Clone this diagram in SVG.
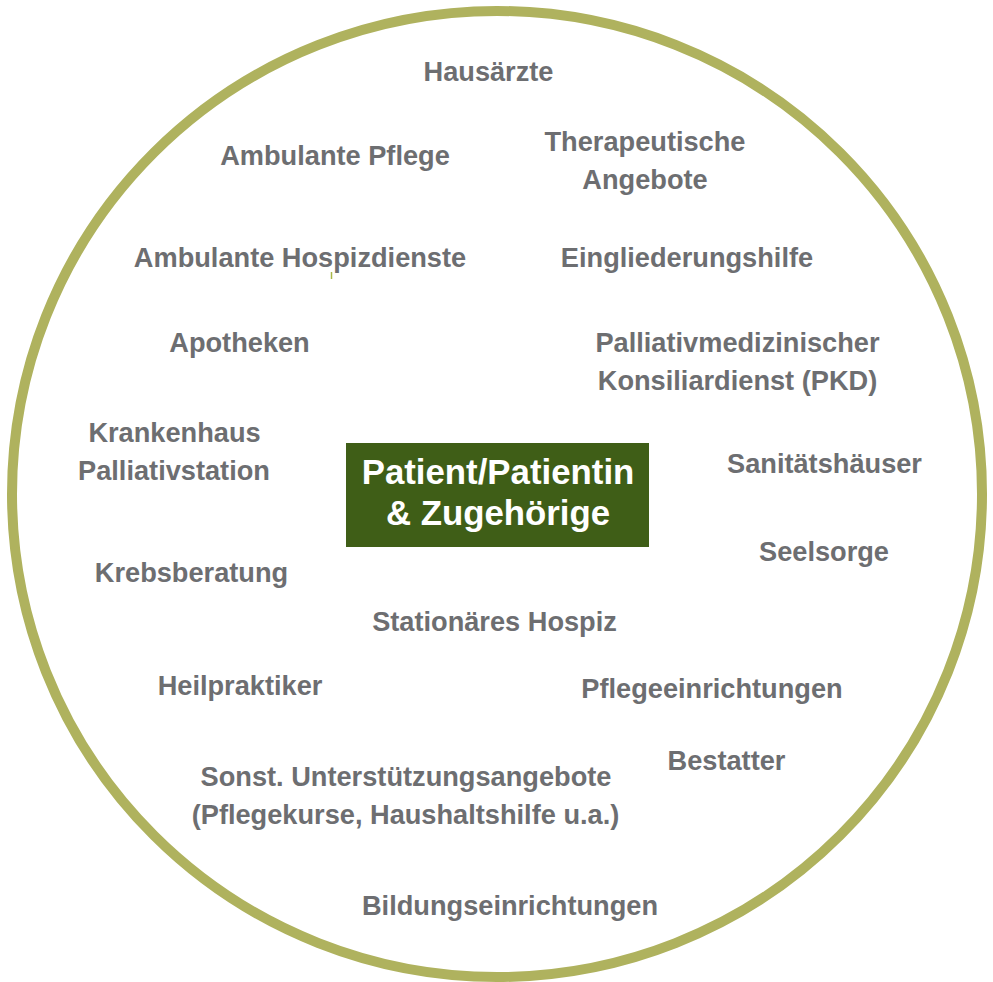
<svg xmlns="http://www.w3.org/2000/svg" width="993" height="982" viewBox="0 0 993 982">
<style>
.lbl{font-family:"Liberation Sans",Arial,sans-serif;font-weight:bold;font-size:27.2px;fill:#6d6e71;text-anchor:middle}
.ctr{font-family:"Liberation Sans",Arial,sans-serif;font-weight:bold;font-size:34.8px;fill:#ffffff;text-anchor:middle}
</style>
<rect width="993" height="982" fill="#ffffff"/>
<g id="ring"><ellipse cx="497" cy="494" rx="485" ry="483" fill="none" stroke="#afb25e" stroke-width="10"/></g>
<line x1="331.5" y1="272" x2="331.5" y2="279" stroke="#a9b84a" stroke-width="1.5"/>
<g id="center"><rect x="346" y="443" width="303" height="104" fill="#3f5e17"/>
<text class="ctr" x="498" y="484">Patient/Patientin</text>
<text class="ctr" x="498" y="525">&amp; Zugehörige</text></g>
<g id="connectors"></g>
<g id="n-hausaerzte"><text class="lbl" x="488.5" y="81">Hausärzte</text></g>
<g id="n-ambpflege"><text class="lbl" x="335" y="165">Ambulante Pflege</text></g>
<g id="n-therapeutisch"><text class="lbl" x="645" y="151">Therapeutische</text><text class="lbl" x="645" y="189">Angebote</text></g>
<g id="n-hospizdienste"><text class="lbl" x="300" y="267">Ambulante Hospizdienste</text></g>
<g id="n-eingliederung"><text class="lbl" x="687" y="267">Eingliederungshilfe</text></g>
<g id="n-apotheken"><text class="lbl" x="239.5" y="352">Apotheken</text></g>
<g id="n-pkd"><text class="lbl" x="737.5" y="352">Palliativmedizinischer</text><text class="lbl" x="737.5" y="390">Konsiliardienst (PKD)</text></g>
<g id="n-krankenhaus"><text class="lbl" x="174.5" y="442">Krankenhaus</text><text class="lbl" x="174" y="480">Palliativstation</text></g>
<g id="n-sanitaet"><text class="lbl" x="824.5" y="473">Sanitätshäuser</text></g>
<g id="n-seelsorge"><text class="lbl" x="824" y="561">Seelsorge</text></g>
<g id="n-krebs"><text class="lbl" x="191.5" y="582">Krebsberatung</text></g>
<g id="n-hospiz"><text class="lbl" x="494.5" y="631">Stationäres Hospiz</text></g>
<g id="n-heil"><text class="lbl" x="240" y="695">Heilpraktiker</text></g>
<g id="n-pflegeein"><text class="lbl" x="712" y="698">Pflegeeinrichtungen</text></g>
<g id="n-bestatter"><text class="lbl" x="726.5" y="770">Bestatter</text></g>
<g id="n-sonst"><text class="lbl" x="406" y="786">Sonst. Unterstützungsangebote</text><text class="lbl" x="405.5" y="824">(Pflegekurse, Haushaltshilfe u.a.)</text></g>
<g id="n-bildung"><text class="lbl" x="510" y="915">Bildungseinrichtungen</text></g>
</svg>
